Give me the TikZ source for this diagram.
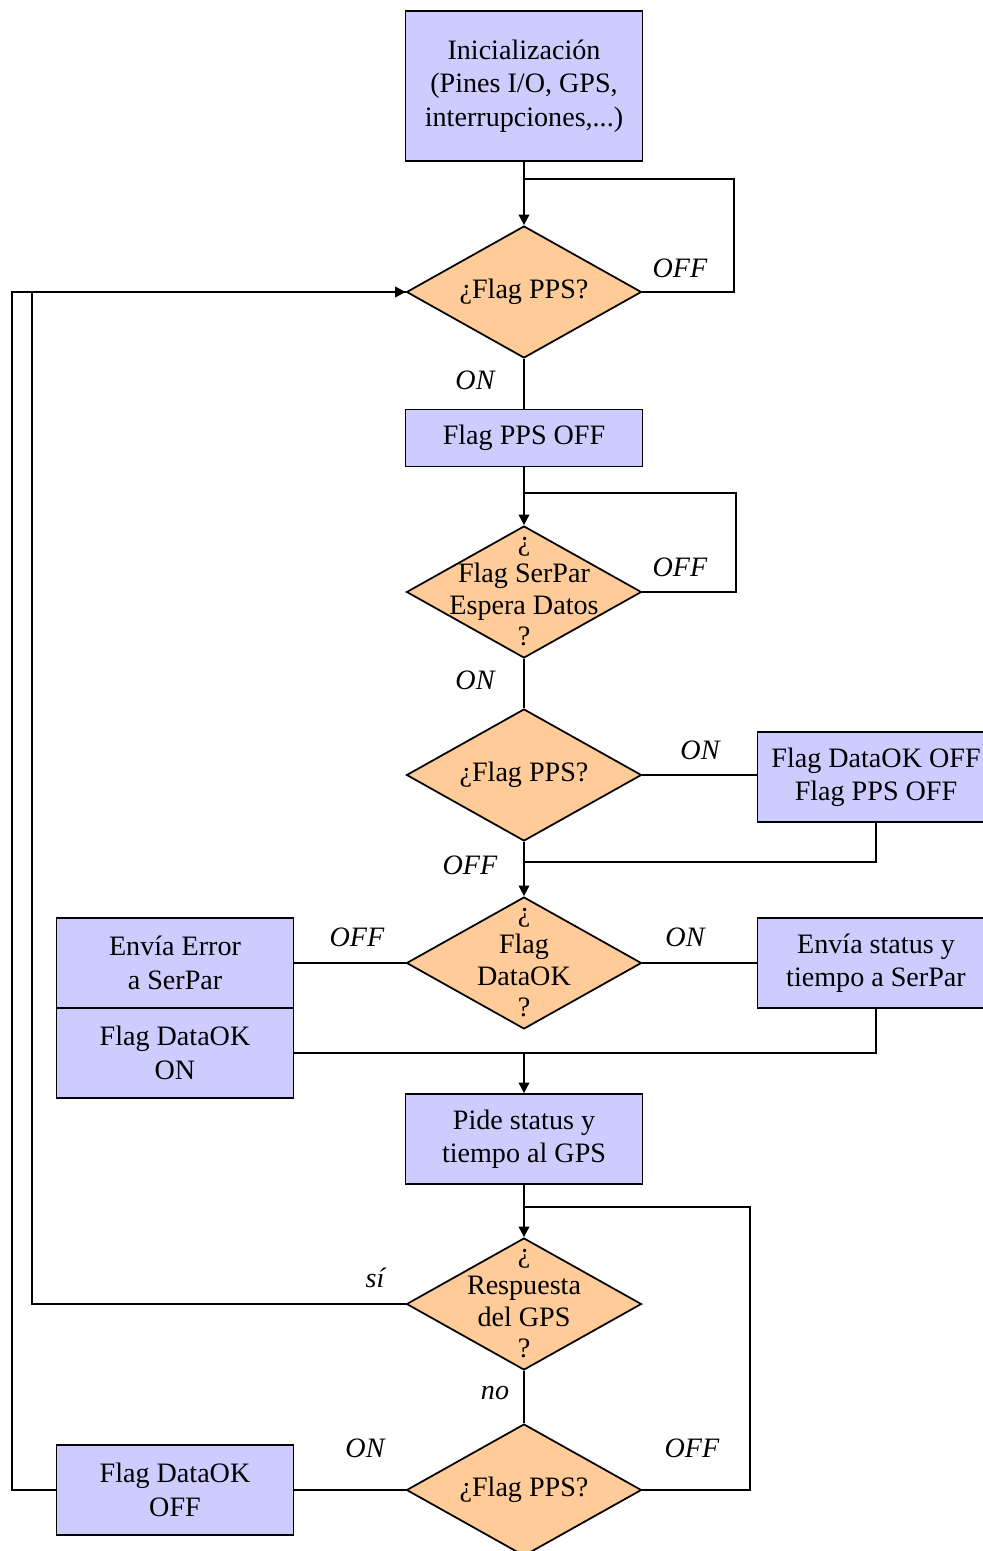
\documentclass[tikz,border=0pt]{standalone}
\usepackage{fontspec}
\setmainfont{Liberation Serif}
\usetikzlibrary{shapes.geometric, arrows.meta, positioning, calc}
\definecolor{procblue}{RGB}{204,204,255}
\definecolor{decorange}{RGB}{255,204,153}

\begin{document}
\begin{tikzpicture}[
    x=0.02cm, y=-0.02cm,
    box/.style={draw, fill=procblue, minimum width=4.74cm, minimum height=1.8cm,
        align=center, inner sep=1pt, font=\fontsize{16}{19}\selectfont},
    decision/.style={draw, fill=decorange, diamond, minimum width=4.7cm,
        minimum height=2.64cm, inner sep=0pt},
    dtext/.style={align=center, inner sep=0pt, font=\fontsize{16}{18}\selectfont},
    arrow/.style={-{Triangle[length=6pt,width=6pt]}},
    lbl/.style={font=\fontsize{16}{19}\selectfont\itshape},
    line width=1pt
]
    \useasboundingbox (0,0) rectangle (983,1551);
    \clip (0,0) rectangle (983,1551);

    % process boxes
    \node[box, minimum height=3cm] (init) at (524,86)
        {Inicialización\\(Pines I/O, GPS,\\interrupciones,...)};
    \node[box, minimum height=1.14cm] (ppsoff) at (524,438) {Flag PPS OFF};
    \node[box] (dok1) at (876,777) {Flag DataOK OFF\\Flag PPS OFF};
    \node[box] (err) at (175,963) {Envía Error\\a SerPar};
    \node[box] (okon) at (175,1053) {Flag DataOK\\ON};
    \node[box] (sendst) at (876,963) {Envía status y\\tiempo a SerPar};
    \node[box] (pide) at (524,1139) {Pide status y\\tiempo al GPS};
    \node[box] (dokoff) at (175,1490) {Flag DataOK\\OFF};

    % decisions
    \node[decision] (d1) at (524,292) {};
    \node[dtext] (d1t) at (d1) {¿Flag PPS?};
    \node[decision] (d2) at (524,592) {};
    \node[dtext] (d2t) at (d2) {¿\\Flag SerPar\\Espera Datos\\?};
    \node[decision] (d3) at (524,775) {};
    \node[dtext] (d3t) at (d3) {¿Flag PPS?};
    \node[decision] (d4) at (524,963) {};
    \node[dtext] (d4t) at (d4) {¿\\Flag\\DataOK\\?};
    \node[decision] (d5) at (524,1304) {};
    \node[dtext] (d5t) at (d5) {¿\\Respuesta\\del GPS\\?};
    \node[decision] (d6) at (524,1490) {};
    \node[dtext] (d6t) at (d6) {¿Flag PPS?};

    % junctions
    \coordinate (j1) at (524,179);
    \coordinate (j2) at (524,493);
    \coordinate (j3) at (524,862);
    \coordinate (j4) at (524,1053);
    \coordinate (j5) at (524,1207);

    % connectors
    \draw[arrow] (init) -- (d1);
    \draw (d1.east) -- ++(92,0) |- (j1);
    \draw (d1) -- (ppsoff);
    \draw[arrow] (ppsoff) -- (d2);
    \draw (d2.east) -- ++(94,0) |- (j2);
    \draw (d2) -- (d3);
    \draw (d3.east) -- (d3.east -| dok1.west);
    \draw (dok1.south) |- (j3);
    \draw[arrow] (d3) -- (d4);
    \draw (d4.west) -- (err.east);
    \draw (d4.east) -- (sendst.west);
    \draw (sendst.south) |- (okon.east);
    \draw[arrow] (j4) -- (pide);
    \draw[arrow] (pide) -- (d5);
    \draw[arrow] (d5.west) -- ++(-374,0) |- (d1.west);
    \draw (d5) -- (d6);
    \draw (d6.east) -- ++(108,0) |- (j5);
    \draw (d6.west) -- (dokoff.east);
    \draw (dokoff.west) -- ++(-44,0) |- (d1.west);

    % branch labels
    \node[lbl] (l1) at (680,268) {OFF};
    \node[lbl] (l2) at (475,380) {ON};
    \node[lbl] (l3) at (680,567) {OFF};
    \node[lbl] (l4) at (475,680) {ON};
    \node[lbl] (l5) at (700,750) {ON};
    \node[lbl] (l6) at (470,865) {OFF};
    \node[lbl] (l7) at (357,937) {OFF};
    \node[lbl] (l8) at (685,937) {ON};
    \node[lbl] (l9) at (375,1278) {sí};
    \node[lbl] (l10) at (495,1393) {no};
    \node[lbl] (l11) at (365,1448) {ON};
    \node[lbl] (l12) at (692,1448) {OFF};
\end{tikzpicture}
\end{document}
